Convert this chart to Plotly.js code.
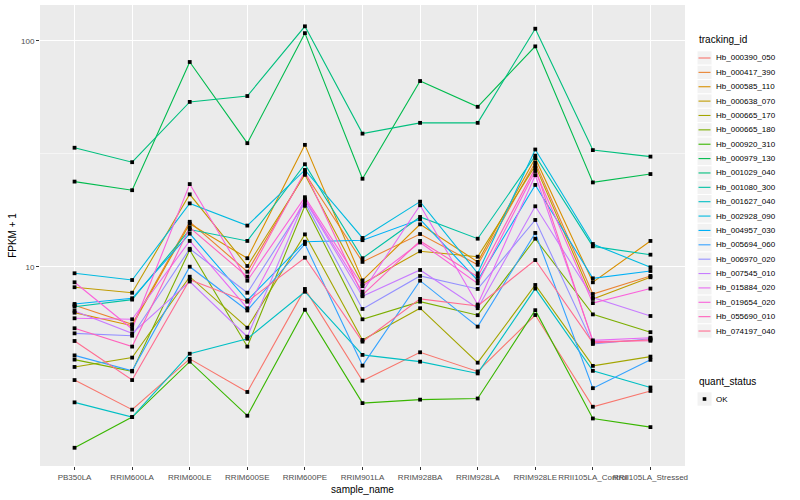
<!DOCTYPE html>
<html><head><meta charset="utf-8">
<script src="https://cdn.plot.ly/plotly-3.0.1.min.js"></script>
<style>body{margin:0;background:#fff}</style>
</head><body><div id="chart" style="width:800px;height:500px"></div>
<script>
// ---- data ----
const samples = ["PB350LA","RRIM600LA","RRIM600LE","RRIM600SE","RRIM600PE","RRIM901LA","RRIM928BA","RRIM928LA","RRIM928LE","RRII105LA_Control","RRII105LA_Stressed"];
const trackingIds = ["Hb_000390_050","Hb_000417_390","Hb_000585_110","Hb_000638_070","Hb_000665_170","Hb_000665_180","Hb_000920_310","Hb_000979_130","Hb_001029_040","Hb_001080_300","Hb_001627_040","Hb_002928_090","Hb_004957_030","Hb_005694_060","Hb_006970_020","Hb_007545_010","Hb_015884_020","Hb_019654_020","Hb_055690_010","Hb_074197_040"];
const colors = ["#F8766D","#EA8331","#D89000","#C09B00","#A3A500","#7CAE00","#39B600","#00BB4E","#00BF7D","#00C1A3","#00BFC4","#00BAE0","#00B0F6","#35A2FF","#9590FF","#C77CFF","#E76BF3","#FA62DB","#FF62BC","#FF6C91"];
const yTicks = [10, 100];
const yTickText = ["10", "100"];
const yMinor = [3.1623, 31.623];
const quantStatus = ["OK"];

const Hb_000390_050 = [3.15, 2.33, 3.91, 2.79, 7.97, 3.13, 4.18, 3.44, 6.11, 2.40, 2.82];
const Hb_000417_390 = [6.75, 5.56, 15.8, 9.5, 25.9, 10.5, 13.95, 10.2, 28.9, 7.57, 9.1];
const Hb_000585_110 = [6.26, 5.48, 15.5, 10.9, 34.6, 8.7, 15.4, 10.5, 30.2, 8.53, 13.0];
const Hb_000638_070 = [8.11, 7.67, 20.9, 10.07, 25.5, 8.4, 11.7, 11.07, 28.0, 7.2, 8.98];
const Hb_000665_170 = [3.60, 3.96, 9.03, 5.37, 13.9, 4.74, 6.55, 3.76, 8.3, 3.64, 4.0];
const Hb_000665_180 = [3.88, 3.44, 11.85, 4.43, 18.6, 5.85, 7.0, 6.1, 13.3, 6.15, 5.13];
const Hb_000920_310 = [1.58, 2.16, 3.80, 2.19, 6.45, 2.49, 2.58, 2.61, 6.42, 2.13, 1.95];
const Hb_000979_130 = [23.8, 21.8, 80.5, 35.2, 108, 24.5, 66.3, 51.0, 94.4, 23.6, 25.7];
const Hb_001029_040 = [33.6, 29.0, 53.6, 56.9, 115.8, 38.8, 43.3, 43.3, 113, 32.8, 30.7];
const Hb_001080_300 = [6.65, 7.15, 14.6, 13.0, 28.4, 10.9, 16.6, 13.3, 31.0, 12.3, 11.3];
const Hb_001627_040 = [2.51, 2.16, 4.12, 4.8, 7.75, 4.07, 3.80, 3.37, 8.0, 3.46, 2.92];
const Hb_002928_090 = [9.35, 8.73, 19.06, 15.2, 26.8, 13.4, 19.4, 9.35, 33.0, 12.6, 9.94];
const Hb_004957_030 = [6.84, 7.25, 14.0, 7.1, 12.9, 13.1, 16.2, 8.7, 23.0, 8.88, 9.57];
const Hb_005694_060 = [4.05, 3.46, 10.0, 6.4, 12.6, 3.65, 8.67, 5.43, 14.1, 2.90, 3.87];
const Hb_006970_020 = [5.07, 4.95, 12.0, 7.67, 19.2, 6.5, 9.1, 7.97, 16.1, 4.55, 4.8];
const Hb_007545_010 = [6.37, 5.07, 8.6, 4.9, 19.7, 7.4, 9.67, 6.55, 18.5, 7.3, 6.05];
const Hb_015884_020 = [5.91, 5.85, 13.0, 6.55, 19.9, 7.75, 18.7, 6.8, 25.4, 4.72, 4.85];
const Hb_019654_020 = [8.53, 5.3, 23.2, 8.67, 20.3, 8.2, 12.8, 8.44, 26.5, 6.9, 8.0];
const Hb_055690_010 = [5.34, 4.43, 14.9, 9.03, 26.3, 7.5, 13.0, 9.03, 27.3, 4.66, 4.7];
const Hb_074197_040 = [4.69, 3.15, 8.75, 7.0, 10.96, 4.66, 7.2, 6.7, 10.7, 4.6, 4.75];

const seriesValues = [Hb_000390_050, Hb_000417_390, Hb_000585_110, Hb_000638_070, Hb_000665_170, Hb_000665_180, Hb_000920_310, Hb_000979_130, Hb_001029_040, Hb_001080_300, Hb_001627_040, Hb_002928_090, Hb_004957_030, Hb_005694_060, Hb_006970_020, Hb_007545_010, Hb_015884_020, Hb_019654_020, Hb_055690_010, Hb_074197_040];

// ---- layout geometry (pixels) ----
const W = 800, H = 500;
const mL = 40, mR = 115, mT = 5, mB = 34;
const pw = W - mL - mR, ph = H - mT - mB;
const px2x = p => (p - mL) / pw;
const py2y = p => (H - mB - p) / ph;
const FONT = "Liberation Sans, Arial, sans-serif";

// ---- traces ----
const traces = seriesValues.map((vals, i) => ({
  type: "scatter", mode: "lines", x: samples, y: vals, name: trackingIds[i],
  line: {color: colors[i], width: 1.1}, showlegend: false, hoverinfo: "skip"
}));
const allX = [], allY = [];
seriesValues.forEach(vals => vals.forEach((v, j) => { allX.push(samples[j]); allY.push(v); }));
traces.push({
  type: "scatter", mode: "markers", x: allX, y: allY, name: quantStatus[0],
  marker: {color: "#000", symbol: "square", size: 3.8}, showlegend: false, hoverinfo: "skip"
});

// ---- ggplot-style legend drawn with annotations and shapes ----
const annotations = [], shapes = [];
const keyX0 = 697, keyX1 = 712, step = 14.37, firstY = 58;
annotations.push({xref: "paper", yref: "paper", x: px2x(keyX0), y: py2y(40), xanchor: "left", yanchor: "middle",
  text: "tracking_id", showarrow: false, font: {family: FONT, size: 10, color: "#000"}});
trackingIds.forEach((id, i) => {
  const cy = firstY + step * i;
  shapes.push({type: "rect", xref: "paper", yref: "paper", x0: px2x(keyX0), x1: px2x(keyX1),
    y0: py2y(cy - step / 2), y1: py2y(cy + step / 2), fillcolor: "#F2F2F2", line: {color: "#fff", width: 1}, layer: "below"});
  shapes.push({type: "line", xref: "paper", yref: "paper", x0: px2x(keyX0 + 1.5), x1: px2x(keyX1 - 1.5),
    y0: py2y(cy), y1: py2y(cy), line: {color: colors[i], width: 1.1}});
  annotations.push({xref: "paper", yref: "paper", x: px2x(keyX1 + 2), y: py2y(cy), xanchor: "left", yanchor: "middle",
    text: id, showarrow: false, font: {family: FONT, size: 8, color: "#000"}});
});
annotations.push({xref: "paper", yref: "paper", x: px2x(keyX0), y: py2y(381), xanchor: "left", yanchor: "middle",
  text: "quant_status", showarrow: false, font: {family: FONT, size: 10, color: "#000"}});
{
  const cy = 399;
  shapes.push({type: "rect", xref: "paper", yref: "paper", x0: px2x(keyX0), x1: px2x(keyX1),
    y0: py2y(cy - step / 2), y1: py2y(cy + step / 2), fillcolor: "#F2F2F2", line: {color: "#fff", width: 1}, layer: "below"});
  const cx = (keyX0 + keyX1) / 2;
  shapes.push({type: "rect", xref: "paper", yref: "paper", x0: px2x(cx - 1.8), x1: px2x(cx + 1.8),
    y0: py2y(cy - 1.8), y1: py2y(cy + 1.8), fillcolor: "#000", line: {width: 0}});
  annotations.push({xref: "paper", yref: "paper", x: px2x(keyX1 + 2), y: py2y(cy), xanchor: "left", yanchor: "middle",
    text: quantStatus[0], showarrow: false, font: {family: FONT, size: 8, color: "#000"}});
}

const layout = {
  width: W, height: H,
  margin: {l: mL, r: mR, t: mT, b: mB, pad: 0},
  paper_bgcolor: "#fff", plot_bgcolor: "#EBEBEB",
  font: {family: FONT, size: 8, color: "#4D4D4D"},
  showlegend: false,
  xaxis: {
    type: "category", range: [-0.6, samples.length - 0.4],
    showgrid: true, gridcolor: "#fff", gridwidth: 1.1, zeroline: false, showline: false,
    ticks: "outside", ticklen: 3, tickcolor: "#333", tickwidth: 1,
    tickfont: {family: FONT, size: 8, color: "#4D4D4D"}, tickangle: 0,
    title: {text: "sample_name", font: {family: FONT, size: 10, color: "#000"}, standoff: 5}
  },
  yaxis: {
    type: "log", range: [0.118, 2.158],
    tickmode: "array", tickvals: yTicks, ticktext: yTickText,
    showgrid: true, gridcolor: "#fff", gridwidth: 1.1, zeroline: false, showline: false,
    ticks: "outside", ticklen: 3, tickcolor: "#333", tickwidth: 1,
    tickfont: {family: FONT, size: 8, color: "#4D4D4D"},
    minor: {tickmode: "array", tickvals: yMinor, showgrid: true, gridcolor: "#fff", gridwidth: 0.5, ticks: ""},
    title: {text: "FPKM + 1", font: {family: FONT, size: 10, color: "#000"}, standoff: 2}
  },
  annotations: annotations,
  shapes: shapes
};

Plotly.newPlot("chart", traces, layout, {displayModeBar: false, staticPlot: true});
</script>
</body></html>
